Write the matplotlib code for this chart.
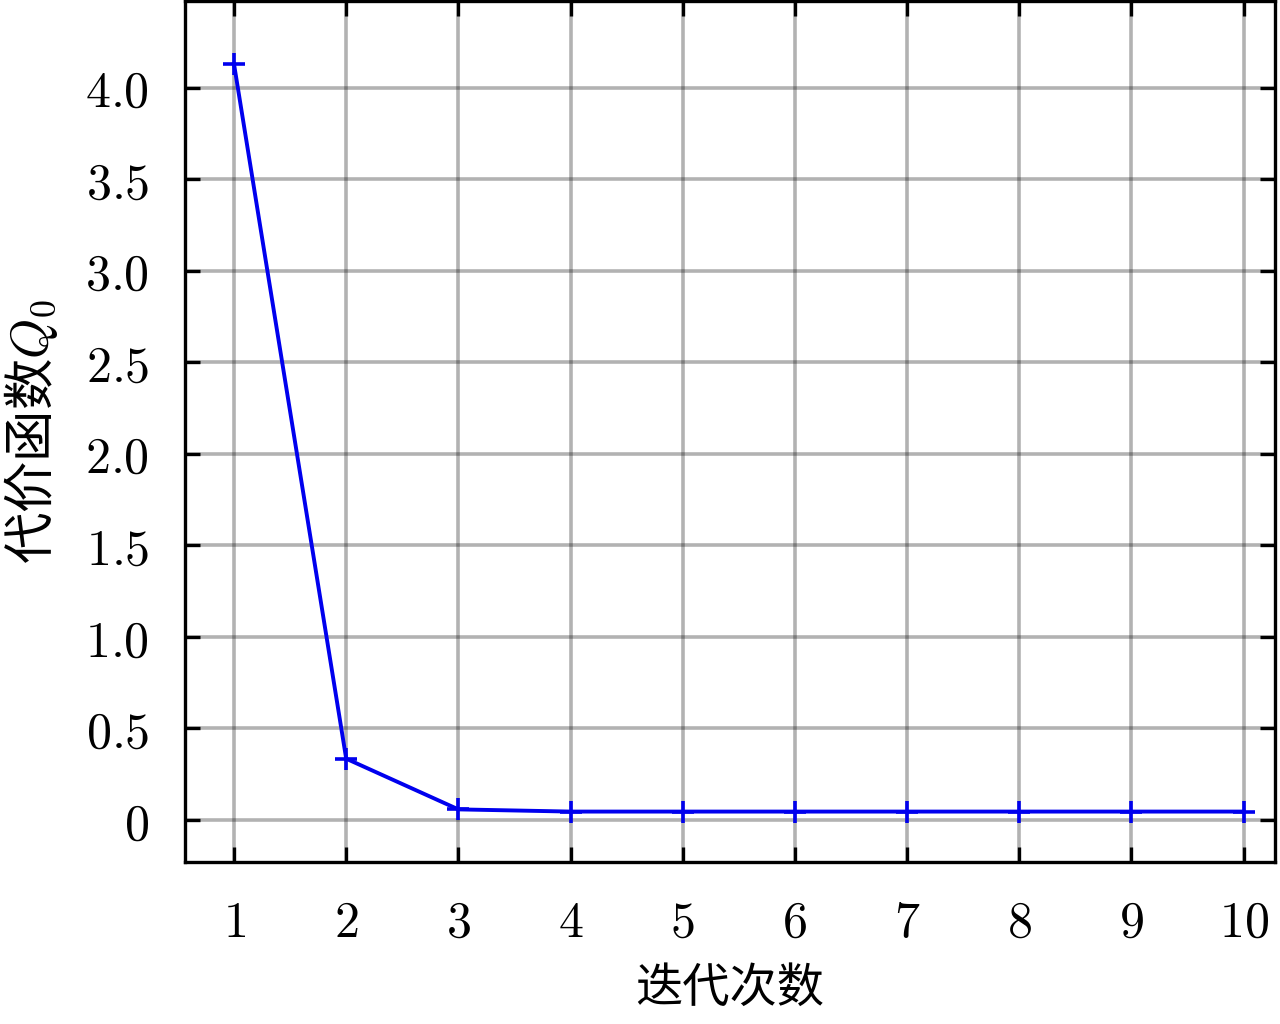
import numpy as np
import matplotlib
matplotlib.use("Agg")
import matplotlib.pyplot as plt

# 全局设置
plt.rcParams["font.family"] = ["DejaVu Serif", "Noto Sans CJK SC"]
plt.rcParams["mathtext.fontset"] = "cm"
plt.rcParams["font.size"] = 18
plt.rcParams["xtick.direction"] = "in"
plt.rcParams["ytick.direction"] = "in"
plt.rcParams["xtick.top"] = True
plt.rcParams["ytick.right"] = True
plt.rcParams["xtick.major.size"] = 5.5
plt.rcParams["ytick.major.size"] = 5.5
plt.rcParams["xtick.major.width"] = 1.2
plt.rcParams["ytick.major.width"] = 1.2
plt.rcParams["axes.linewidth"] = 1.2

# 数据
iterations = [1, 2, 3, 4, 5, 6, 7, 8, 9, 10]
cost_q0 = [4.13, 0.335, 0.058, 0.046, 0.046, 0.046, 0.046, 0.046, 0.046, 0.046]

y_ticks = [0, 0.5, 1.0, 1.5, 2.0, 2.5, 3.0, 3.5, 4.0]
y_tick_labels = ["0", "0.5", "1.0", "1.5", "2.0", "2.5", "3.0", "3.5", "4.0"]

fig = plt.figure(figsize=(6.4, 5.12), dpi=200)
ax = fig.add_axes([185 / 1280, 1 - 862 / 1024, 1090 / 1280, 861 / 1024])

ax.plot(iterations, cost_q0, color="#0000ee", marker="+", markersize=8,
        markeredgewidth=1.3, linewidth=1.4)

ax.set_xticks(iterations)
ax.set_xticklabels([r"$%d$" % v for v in iterations], fontsize=18)
ax.set_yticks(y_ticks)
ax.set_yticklabels([r"$%s$" % s for s in y_tick_labels], fontsize=18)
ax.tick_params(axis="x", pad=13)
ax.tick_params(axis="y", pad=13)

ax.set_xlim(0.563, 10.28)
ax.set_ylim(-0.2295, 4.475)

ax.grid(True, color="black", alpha=0.3, linewidth=1.3)

ax.set_xlabel("迭代次数", fontsize=17, family=["Noto Sans CJK SC"], labelpad=6)
ax.set_ylabel(r"代价函数$Q_0$", fontsize=18.5, family=["Noto Sans CJK SC"], labelpad=9)

fig.savefig("out.png", dpi=200)
